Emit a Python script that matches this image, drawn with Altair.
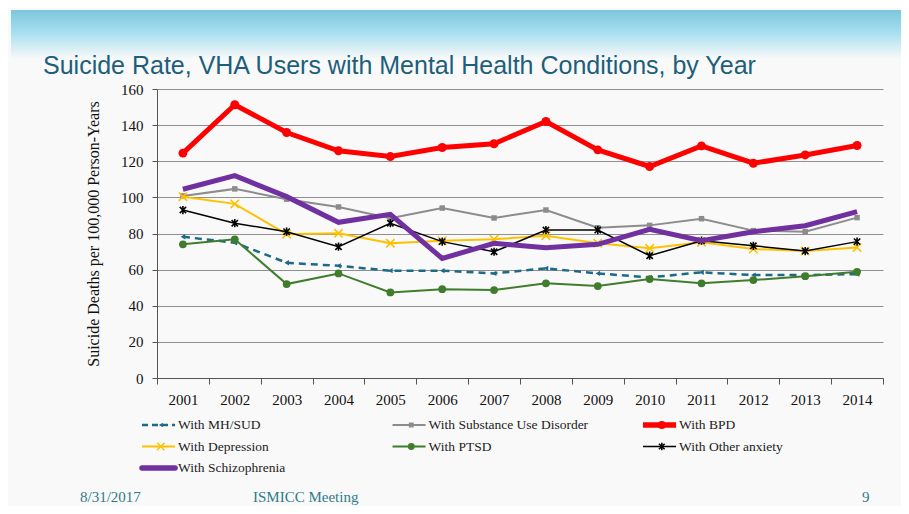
import altair as alt
import pandas as pd

years = list(range(2001, 2015))
series_names = [
    "With MH/SUD",
    "With Substance Use Disorder",
    "With BPD",
    "With Depression",
    "With PTSD",
    "With Other anxiety",
    "With Schizophrenia",
]
mh_sud = [78.2, 74.9, 63.8, 62.1, 59.4, 59.4, 57.9, 60.7, 57.9, 55.7, 58.5, 57.0, 57.0, 57.5]
sud = [100.8, 104.7, 99.0, 94.7, 88.4, 94.1, 88.6, 93.0, 83.2, 84.5, 88.2, 81.6, 81.0, 88.8]
bpd = [124.5, 151.3, 135.9, 125.8, 122.6, 127.6, 129.7, 142.0, 126.3, 117.1, 128.5, 118.9, 123.5, 128.7]
depression = [100.4, 96.4, 79.6, 80.1, 74.6, 76.0, 76.8, 78.8, 74.6, 71.8, 75.1, 71.4, 70.3, 72.3]
ptsd = [74.0, 76.8, 52.0, 57.9, 47.4, 49.2, 48.7, 52.4, 50.9, 54.8, 52.4, 54.2, 56.4, 58.8]
other_anxiety = [93.0, 85.7, 81.0, 72.7, 85.7, 75.5, 69.9, 81.9, 81.9, 67.7, 76.0, 73.2, 70.3, 75.5]
schizophrenia = [104.5, 112.0, 100.4, 86.2, 90.6, 66.2, 74.6, 72.1, 74.0, 82.3, 76.0, 81.0, 84.3, 92.1]
y_ticks = [0, 20, 40, 60, 80, 100, 120, 140, 160]
footer_texts = ["8/31/2017", "ISMICC Meeting", "9"]

values = [mh_sud, sud, bpd, depression, ptsd, other_anxiety, schizophrenia]

X_PATH = "M-1,-1L1,1M-1,1L1,-1"
STAR_PATH = "M-1,-1L1,1M-1,1L1,-1M0,-1.3L0,1.3"

styles = {
    "With MH/SUD": dict(color="#1d6a88", width=2.5, dash=[7, 5], shape="triangle-left", size=28, filled=True),
    "With Substance Use Disorder": dict(color="#8c8c8c", width=2, dash=None, shape="square", size=30, filled=True),
    "With BPD": dict(color="#ff0000", width=5, dash=None, shape="circle", size=80, filled=True),
    "With Depression": dict(color="#ffc000", width=2, dash=None, shape=X_PATH, size=70, filled=False),
    "With PTSD": dict(color="#3f7d2c", width=2, dash=None, shape="circle", size=60, filled=True),
    "With Other anxiety": dict(color="#000000", width=1.5, dash=None, shape=STAR_PATH, size=40, filled=False),
    "With Schizophrenia": dict(color="#7030a0", width=5, dash=None, shape=None, size=0, filled=True),
}

rows = []
for name, vals in zip(series_names, values):
    for yr, v in zip(years, vals):
        rows.append({"series": name, "year": str(yr), "rate": v})
df = pd.DataFrame(rows)

x_enc = alt.X(
    "year:O",
    scale=alt.Scale(type="band", paddingInner=0, paddingOuter=0),
    axis=alt.Axis(
        title=None, labelAngle=0, tickBand="extent", labelFont="Liberation Serif",
        labelFontSize=15, labelColor="#111", labelPadding=8, tickSize=6,
        tickColor="#555", domainColor="#555", grid=False,
    ),
)
y_enc = alt.Y(
    "rate:Q",
    scale=alt.Scale(domain=[0, 160], nice=False),
    axis=alt.Axis(
        values=y_ticks, title="Suicide Deaths per 100,000 Person-Years",
        titleFont="Liberation Serif", titleFontSize=16, titleFontWeight="normal",
        titleColor="#111", titlePadding=19, labelFont="Liberation Serif",
        labelFontSize=15, labelColor="#111", labelPadding=9, tickSize=5,
        tickColor="#555", domainColor="#555", grid=True, gridColor="#8f8f8f",
        labelOverlap=False,
    ),
)

main_layers = []
for i, name in enumerate(series_names):
    st = styles[name]
    sub = alt.Chart(df).transform_filter(alt.datum.series == name)
    line_kw = dict(color=st["color"], strokeWidth=st["width"])
    if st["dash"]:
        line_kw["strokeDash"] = st["dash"]
    main_layers.append(sub.mark_line(**line_kw))
    if st["shape"]:
        pt_kw = dict(shape=st["shape"], size=st["size"], filled=st["filled"], opacity=1)
        if st["filled"]:
            pt_kw["color"] = st["color"]
        else:
            pt_kw["stroke"] = st["color"]
            pt_kw["strokeWidth"] = 1.6
        main_layers.append(sub.mark_point(**pt_kw))

main = alt.layer(*main_layers).encode(x=x_enc, y=y_enc)

# legend built from the series list
leg_df = pd.DataFrame({
    "series": series_names,
    "col": [i % 3 for i in range(len(series_names))],
    "row": [i // 3 for i in range(len(series_names))],
})
lx = alt.Scale(domain=[0, 2], range=[-15, 486])
ly = alt.Scale(domain=[0, 2], range=[336, 379])
legend_layers = []
for name in series_names:
    st = styles[name]
    base = alt.Chart(leg_df).transform_filter(alt.datum.series == name).transform_calculate(
        x_end="datum.col + 0.132", x_mid="datum.col + 0.075", x_txt="datum.col + 0.144"
    )
    rule_kw = dict(color=st["color"], strokeWidth=st["width"] if st["width"] < 5 else 5.5)
    if st["dash"]:
        rule_kw["strokeDash"] = [6, 4]
    if name == "With Schizophrenia":
        rule_kw["strokeCap"] = "round"
    legend_layers.append(base.mark_rule(**rule_kw).encode(
        x=alt.X("col:Q", scale=lx, axis=None),
        x2="x_end:Q",
        y=alt.Y("row:Q", scale=ly, axis=None),
    ))
    if st["shape"]:
        pt_kw = dict(shape=st["shape"], size=st["size"] * 0.8, filled=st["filled"], opacity=1)
        if st["filled"]:
            pt_kw["color"] = st["color"]
        else:
            pt_kw["stroke"] = st["color"]
            pt_kw["strokeWidth"] = 1.5
        legend_layers.append(base.mark_point(**pt_kw).encode(
            x=alt.X("x_mid:Q", scale=lx, axis=None),
            y=alt.Y("row:Q", scale=ly, axis=None),
        ))
    legend_layers.append(base.mark_text(
        align="left", baseline="middle", font="Liberation Serif", fontSize=13.5, color="#222"
    ).encode(
        x=alt.X("x_txt:Q", scale=lx, axis=None),
        y=alt.Y("row:Q", scale=ly, axis=None),
        text="series:N",
    ))

one = pd.DataFrame({"k": [0]})
footer_color = "#2e7b8c"
footer_x = [-77, 96, 705]
footer = [
    alt.Chart(one).mark_text(text=t, align="left", baseline="middle",
        font="Liberation Serif", fontSize=15, color=footer_color).encode(
        x=alt.value(fx), y=alt.value(408))
    for t, fx in zip(footer_texts, footer_x)
]

legend = alt.layer(*legend_layers, *footer)

# slide decoration: header band
band = alt.Chart(one).mark_rect(
    color=alt.Gradient(
        gradient="linear", x1=0, x2=0, y1=0, y2=1,
        stops=[
            alt.GradientStop(color="#7cc6dc", offset=0),
            alt.GradientStop(color="#a6def0", offset=0.45),
            alt.GradientStop(color="#f9f9f9", offset=1),
        ],
    )
).encode(x=alt.value(-146), x2=alt.value(752), y=alt.value(-79), y2=alt.value(-30))

chart = alt.layer(band, main, legend).resolve_scale(x="independent", y="independent").properties(
    width=726,
    height=289,
    autosize=alt.AutoSizeParams(type="none"),
    padding={"left": 149, "top": 81, "right": 18, "bottom": 128},
    background="#f9f9f9",
    title=alt.TitleParams(
        "Suicide Rate, VHA Users with Mental Health Conditions, by Year",
        anchor="start", frame="group", dx=-114, dy=75, offset=6,
        font="Liberation Sans, Arial", fontSize=25,
        fontWeight="normal", color="#1c5f7c",
    ),
).configure_view(stroke=None)

chart.save("out.html", embed_options={"renderer": "svg", "actions": False})
